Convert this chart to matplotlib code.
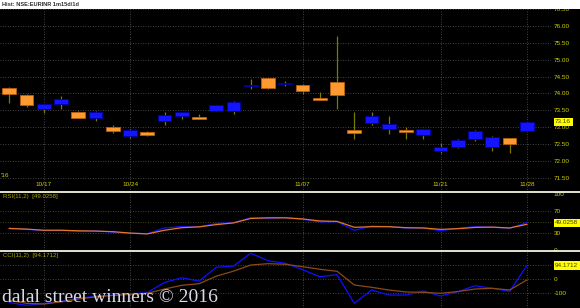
## EURINR daily candles with RSI and CCI panels
import matplotlib
matplotlib.use("Agg")
import matplotlib.pyplot as plt
import matplotlib.transforms as mtransforms
from matplotlib.lines import Line2D
from matplotlib.patches import Rectangle

## Data (31 trading days, 10/13 .. 11/28)
opens  = [74.17, 73.96, 73.53, 73.69, 73.45, 73.26, 73.00, 72.75, 72.85, 73.19,
          73.33, 73.31, 73.48, 73.49, 74.23, 74.45, 74.27, 74.24, 73.86, 74.34,
          72.91, 73.14, 72.94, 72.92, 72.77, 72.30, 72.42, 72.64, 72.42, 72.68, 72.89]
highs  = [74.18, 73.97, 73.69, 73.92, 73.48, 73.47, 73.06, 72.94, 72.88, 73.45,
          73.45, 73.39, 73.67, 73.77, 74.42, 74.46, 74.36, 74.25, 74.04, 75.70,
          73.45, 73.45, 73.33, 73.01, 72.96, 72.54, 72.66, 72.92, 72.73, 72.69, 73.17]
lows   = [73.72, 73.60, 73.43, 73.53, 73.27, 73.18, 72.82, 72.69, 72.74, 73.08,
          73.25, 73.23, 73.47, 73.40, 74.14, 74.14, 74.21, 73.97, 73.81, 73.54,
          72.64, 73.07, 72.79, 72.66, 72.66, 72.23, 72.40, 72.60, 72.30, 72.24, 72.88]
closes = [73.97, 73.66, 73.68, 73.85, 73.28, 73.46, 72.90, 72.92, 72.78, 73.36,
          73.44, 73.25, 73.66, 73.74, 74.26, 74.17, 74.31, 74.08, 73.82, 73.96,
          72.84, 73.33, 73.11, 72.86, 72.95, 72.42, 72.62, 72.88, 72.72, 72.50, 73.16]

rsi     = [39.5, 37.0, 35.0, 35.5, 33.5, 34.5, 32.0, 30.0, 29.5, 39.5,
           42.0, 41.5, 47.5, 49.0, 57.7, 56.6, 57.7, 54.9, 50.1, 50.6,
           35.4, 43.0, 41.8, 39.5, 39.5, 34.7, 38.9, 41.8, 41.0, 39.0, 49.03]
rsi_sig = [38.5, 37.5, 35.5, 35.5, 34.5, 34.0, 33.0, 30.5, 29.0, 35.5,
           40.0, 41.5, 45.5, 48.5, 56.4, 57.5, 57.5, 55.5, 51.9, 51.2,
           40.7, 41.8, 41.8, 40.0, 39.5, 37.0, 38.3, 40.5, 41.0, 39.5, 46.0]

cci     = [-165, -184, -172, -155, -135, -120, -112, -105, -95, -24,
           9, -15, 82, 91, 180, 128, 110, 65, 16, 30,
           -170, -77, -112, -112, -84, -119, -88, -47, -65, -87, 94.17]
cci_sig = [-150, -170, -175, -160, -140, -125, -115, -108, -100, -70,
           -44, -33, 20, 55, 98, 107, 103, 86, 68, 54,
           -42, -58, -77, -91, -93, -100, -88, -70, -65, -77, -7]

date_idx = [2, 7, 17, 25, 30]
date_labels = ['10/17', '10/24', '11/07', '11/21', '11/28']
price_ticks = [71.5, 72.0, 72.5, 73.0, 73.5, 74.0, 74.5, 75.0, 75.5, 76.0, 76.5]

## colours
BG = 'black'
LBL = '#d0d000'
GRID = '#5a5a5a'
UP_FC, UP_EC = '#1414ff', '#0000a8'
DN_FC, DN_EC = '#ff9a30', '#b86010'
WICK = '#7a7a00'

W, H = 580, 308
fig = plt.figure(figsize=(W / 100, H / 100), dpi=100, facecolor=BG)

def fy(px):
    return 1 - px / H

## axes boxes in pixels (top, bottom)
right = 551 / W
ax_p = fig.add_axes([0, fy(191.5), right, fy(9) - fy(191.5)])
ax_r = fig.add_axes([0, fy(250.3), right, fy(192.5) - fy(250.3)])
ax_c = fig.add_axes([0, fy(308), right, fy(251.3) - fy(308)])

xs = list(range(len(closes)))
for ax in (ax_p, ax_r, ax_c):
    ax.set_facecolor(BG)
    ax.set_xlim(-0.54, 31.4)
    for s in ax.spines.values():
        s.set_visible(False)
    ax.set_xticks([])
    ax.yaxis.set_ticks_position('right')
    ax.tick_params(axis='y', length=0, pad=2, labelsize=4.6, labelcolor=LBL)
    for i in date_idx:
        ax.axvline(i, color=GRID, lw=0.6, ls=(0, (1, 2)), zorder=0)

## price panel
ax_p.set_ylim(71.098, 76.494)
ax_p.set_yticks(price_ticks)
ax_p.set_yticklabels(['%.2f' % t for t in price_ticks], family='Liberation Sans')
for t in price_ticks:
    ax_p.axhline(t, color=GRID, lw=0.6, ls=(0, (1, 2)), zorder=0)

ax_p.vlines(xs, lows, highs, color=WICK, lw=0.9, zorder=1)
for i in xs:
    o, c = opens[i], closes[i]
    up = c >= o
    ax_p.bar(i, max(abs(c - o), 0.01), bottom=min(o, c), width=0.8,
             color=UP_FC if up else DN_FC, edgecolor=UP_EC if up else DN_EC,
             lw=0.6, zorder=2)

for i, lab in zip(date_idx, date_labels):
    ax_p.text(i, 0.041, lab, transform=mtransforms.blended_transform_factory(ax_p.transData, ax_p.transAxes),
              ha='center', va='center', fontsize=4.6, color=LBL, family='Liberation Sans')
ax_p.text(0.002, 0.085, "'16", transform=ax_p.transAxes, ha='left', va='center',
          fontsize=4.6, color=LBL, family='Liberation Sans')

def value_box(ax, val, txt):
    tr = mtransforms.blended_transform_factory(ax.transAxes, ax.transData)
    ax.annotate(txt, xy=(1, val), xycoords=tr, xytext=(3, 0), textcoords='offset points',
                ha='left', va='center', fontsize=4.6, color='#404000', family='Liberation Sans',
                bbox=dict(boxstyle='square,pad=0.25', fc='#ffff00', ec='none'),
                annotation_clip=False, zorder=5)

value_box(ax_p, closes[-1], '%.2f' % closes[-1])

## RSI panel
ax_r.set_ylim(0, 102.3)
ax_r.set_yticks([0, 30, 70, 100])
ax_r.set_yticklabels(['0', '30', '70', '100'], family='Liberation Sans')
for t in (30, 50, 70):
    ax_r.axhline(t, color='#5e5e1e', lw=0.6, ls=(0, (1, 2)), zorder=0)
ax_r.plot(xs, rsi, color='#1010ff', lw=0.9, zorder=2)
ax_r.plot(xs, rsi_sig, color='#e87820', lw=0.9, zorder=3)
ax_r.text(0.005, 0.93, 'RSI(11,2)  [49.0258]', transform=ax_r.transAxes, ha='left', va='center',
          fontsize=4.4, color='#a8a800', family='Liberation Sans')
value_box(ax_r, rsi[-1], '49.0258')

## CCI panel
ax_c.set_ylim(-202.8, 193.7)
ax_c.set_yticks([0, -100])
ax_c.set_yticklabels(['0', '-100'], family='Liberation Sans')
for t in (100, 0, -100):
    ax_c.axhline(t, color='#5e5e1e', lw=0.6, ls=(0, (1, 2)), zorder=0)
ax_c.plot(xs, cci, color='#1010ff', lw=0.9, zorder=2)
ax_c.plot(xs, cci_sig, color='#8b4a16', lw=0.9, zorder=3)
ax_c.text(0.005, 0.93, 'CCI(11,2)  [94.1712]', transform=ax_c.transAxes, ha='left', va='center',
          fontsize=4.4, color='#a8a800', family='Liberation Sans')
value_box(ax_c, cci[-1], '94.1712')

## white title strip and panel separators
fig.patches.append(Rectangle((0, fy(8.5)), 1, 8.5 / H, transform=fig.transFigure,
                             facecolor='white', edgecolor='none', zorder=10))
fig.text(2 / W, fy(4.3), 'Hist: NSE:EURINR 1m15d/1d', ha='left', va='center',
         fontsize=4.1, color='#303030', family='Liberation Sans', weight='bold', zorder=11)
for yy in (191.8, 250.8):
    fig.lines.append(Line2D([0, 1], [fy(yy), fy(yy)], transform=fig.transFigure,
                            color='#f4f4e0', lw=1.3, zorder=10))

## watermark
fig.text(2 / W, fy(301.7), 'dalal street winners \u00a9 2016', ha='left', va='baseline',
         fontsize=14, family='Liberation Serif', color='#d8dae4', zorder=12)

fig.savefig('out.png', dpi=100, facecolor=BG)
